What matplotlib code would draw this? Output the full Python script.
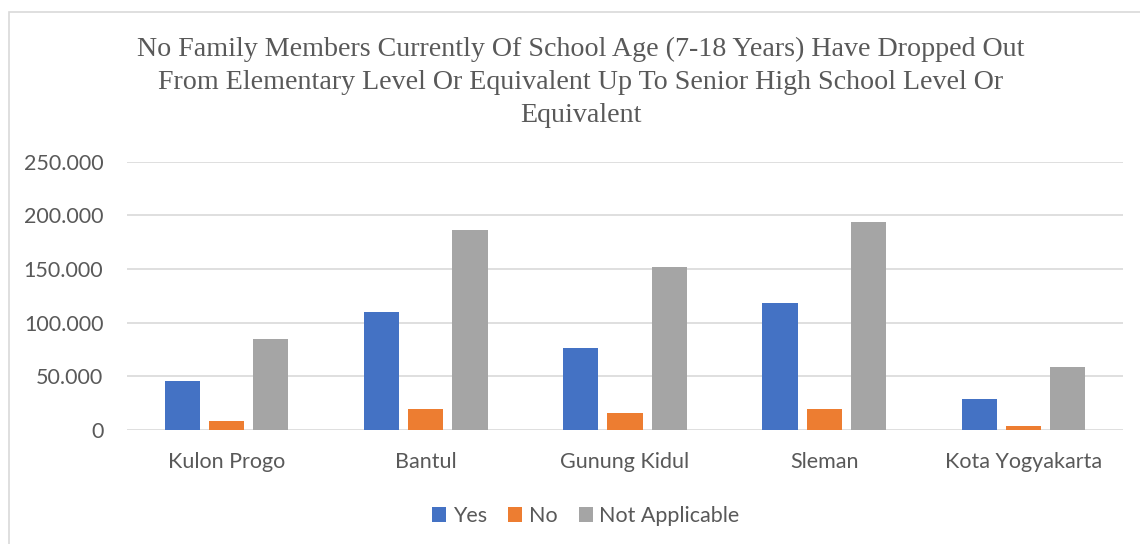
import matplotlib
matplotlib.use("Agg")
import matplotlib.pyplot as plt
import numpy as np
from matplotlib.patches import Rectangle
from matplotlib.ticker import FuncFormatter

categories = ["Kulon Progo", "Bantul", "Gunung Kidul", "Sleman", "Kota Yogyakarta"]
yes_vals = [46000, 110000, 76000, 118000, 29000]
no_vals = [8700, 19600, 15500, 19600, 3700]
na_vals = [85000, 186000, 152000, 194000, 58700]
series_names = ["Yes", "No", "Not Applicable"]
colors = ["#4472C4", "#ED7D31", "#A5A5A5"]
title = ("No Family Members Currently Of School Age (7-18 Years) Have Dropped Out\n"
         "From Elementary Level Or Equivalent Up To Senior High School Level Or\n"
         "Equivalent")

W, H = 1140, 544
fig = plt.figure(figsize=(W / 100, H / 100), dpi=100)
fig.patch.set_facecolor("white")

# chart border
fig.patches.append(Rectangle((9 / W, -0.1), 1.2, 1 - 12 / H + 0.1, transform=fig.transFigure,
                             fill=False, edgecolor="#D9D9D9", linewidth=1.2))

left, right, top, bottom = 127, 1123, 161.7, 430
ax = fig.add_axes([left / W, 1 - bottom / H, (right - left) / W, (bottom - top) / H])

x = np.arange(len(categories))
bw = 0.176
step = 0.222
for i, (vals, c, name) in enumerate(zip([yes_vals, no_vals, na_vals], colors, series_names)):
    ax.bar(x + (i - 1) * step, vals, width=bw, color=c, label=name, zorder=3)

ax.set_xlim(-0.5, len(categories) - 0.5)
ax.set_ylim(0, 250000)
ax.set_yticks(np.arange(0, 250001, 50000))
ax.yaxis.set_major_formatter(FuncFormatter(lambda v, p: f"{int(v):,}".replace(",", ".")))
ax.set_xticks(x)
ax.set_xticklabels(categories)
ax.grid(axis="y", color="#D9D9D9", linewidth=1.2, zorder=0)
for s in ax.spines.values():
    s.set_visible(False)
ax.tick_params(axis="both", length=0, labelsize=15.5, labelcolor="#595959")
ax.tick_params(axis="x", pad=16)
ax.tick_params(axis="y", pad=17)
for lab in ax.get_xticklabels() + ax.get_yticklabels():
    lab.set_fontfamily("Lato")

fig.text(581 / W, 1 - 37 / H, title, ha="center", va="top", fontsize=20.2,
         family="Liberation Serif", color="#595959", linespacing=1.43)

leg = fig.legend(loc="center", bbox_to_anchor=(586 / W, 1 - 516 / H), ncol=3, frameon=False,
                 prop={"family": "Lato", "size": 15.5}, handlelength=0.65, handleheight=0.65,
                 handletextpad=0.3, columnspacing=1.0, labelcolor="#595959")

fig.savefig("out.png", dpi=100, facecolor="white")
